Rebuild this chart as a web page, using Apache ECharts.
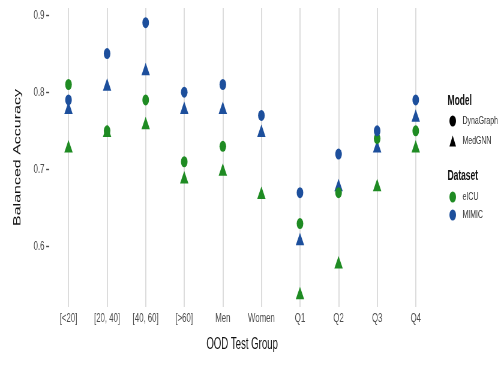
<!DOCTYPE html>
<html><head><meta charset="utf-8">
<script src="https://cdn.jsdelivr.net/npm/echarts@6/dist/echarts.min.js"></script>
<style>
html,body{margin:0;padding:0;background:#fff;overflow:hidden;width:500px;height:365px}
#c{width:833px;height:365px;transform:scaleX(0.6);transform-origin:0 0}
</style>
</head><body><div id="c"></div>
<script>
const categories = ['[<20]', '[20, 40]', '[40, 60]', '[>60]', 'Men', 'Women', 'Q1', 'Q2', 'Q3', 'Q4'];
const dynaEICU  = [0.81, 0.75, 0.79, 0.71, 0.73, null, 0.63, 0.67, 0.74, 0.75];
const dynaMIMIC = [0.79, 0.85, 0.89, 0.80, 0.81, 0.77, 0.67, 0.72, 0.75, 0.79];
const medEICU   = [0.73, 0.75, 0.76, 0.69, 0.70, 0.67, 0.54, 0.58, 0.68, 0.73];
const medMIMIC  = [0.78, 0.81, 0.83, 0.78, 0.78, 0.75, 0.61, 0.68, 0.73, 0.77];
const yTicks = [0.6, 0.7, 0.8, 0.9];
const modelLegend = ['DynaGraph', 'MedGNN'];
const datasetLegend = ['eICU', 'MIMIC'];

const GREEN = '#1f8b23', BLUE = '#1d4f9c';
const FONT = '"Liberation Sans", Arial, sans-serif';
const circ = [11, 11], tri = [14, 12.5];
function s(name, data, color, symbol, size) {
  return { name, type: 'scatter', data, symbol, symbolSize: size, symbolKeepAspect: false,
    itemStyle: { color, opacity: 1 }, emphasis: { disabled: true }, z: 3 };
}
const legendText = { fontFamily: FONT, fontSize: 11.5, color: '#333', padding: [0, 0, 0, 6] };
const chart = echarts.init(document.getElementById('c'));
chart.setOption({
  animation: false,
  grid: { left: 82, right: 108, top: 8, bottom: 58, containLabel: false },
  xAxis: {
    type: 'category', data: categories, boundaryGap: true,
    name: 'OOD Test Group', nameLocation: 'middle', nameGap: 30, nameMoveOverlap: false,
    nameTextStyle: { fontFamily: FONT, fontSize: 16, color: '#111' },
    axisLine: { show: false },
    axisTick: { show: true, inside: true, alignWithLabel: true, length: 299, lineStyle: { color: '#d3d3d3', width: 1.6 } },
    axisLabel: { fontFamily: FONT, fontSize: 13, color: '#4d4d4d', margin: 5, interval: 0 },
    splitLine: { show: false }
  },
  yAxis: {
    type: 'value', min: 0.522, max: 0.909,
    name: 'Balanced Accuracy', nameLocation: 'middle', nameGap: 44, nameMoveOverlap: false,
    nameTextStyle: { fontFamily: FONT, fontSize: 16, color: '#111' },
    axisLine: { show: false },
    axisTick: { show: true, customValues: yTicks, length: 5, lineStyle: { color: '#4d4d4d', width: 1.4 } },
    axisLabel: { customValues: yTicks, fontFamily: FONT, fontSize: 13, color: '#4d4d4d', margin: 8,
      formatter: v => v.toFixed(1) },
    splitLine: { show: false }
  },
  legend: [
    { data: [{ name: modelLegend[0], icon: 'circle' }, { name: modelLegend[1], icon: 'triangle' }],
      orient: 'vertical', left: 749, top: 115, padding: 0, itemWidth: 11, itemHeight: 11, itemGap: 8,
      textStyle: legendText, selectedMode: false, itemStyle: { opacity: 1 } },
    { data: [{ name: datasetLegend[0], icon: 'circle' }, { name: datasetLegend[1], icon: 'circle' }],
      orient: 'vertical', left: 749, top: 191, padding: 0, itemWidth: 11, itemHeight: 11, itemGap: 6,
      textStyle: legendText, selectedMode: false, itemStyle: { opacity: 1 } }
  ],
  graphic: [
    { type: 'text', x: 746, y: 101, style: { text: 'Model', fontFamily: FONT, fontSize: 14, fontWeight: 'bold', fill: '#111', verticalAlign: 'middle' } },
    { type: 'text', x: 746, y: 176, style: { text: 'Dataset', fontFamily: FONT, fontSize: 14, fontWeight: 'bold', fill: '#111', verticalAlign: 'middle' } }
  ],
  series: [
    s('eICU-MedGNN', medEICU, GREEN, 'triangle', tri),
    s('MIMIC-MedGNN', medMIMIC, BLUE, 'triangle', tri),
    s('eICU-DynaGraph', dynaEICU, GREEN, 'circle', circ),
    s('MIMIC-DynaGraph', dynaMIMIC, BLUE, 'circle', circ),
    { name: modelLegend[0], type: 'scatter', data: [], itemStyle: { color: '#000', opacity: 1 } },
    { name: modelLegend[1], type: 'scatter', data: [], itemStyle: { color: '#000', opacity: 1 } },
    { name: datasetLegend[0], type: 'scatter', data: [], itemStyle: { color: GREEN, opacity: 1 } },
    { name: datasetLegend[1], type: 'scatter', data: [], itemStyle: { color: BLUE, opacity: 1 } }
  ]
});
</script></body></html>
